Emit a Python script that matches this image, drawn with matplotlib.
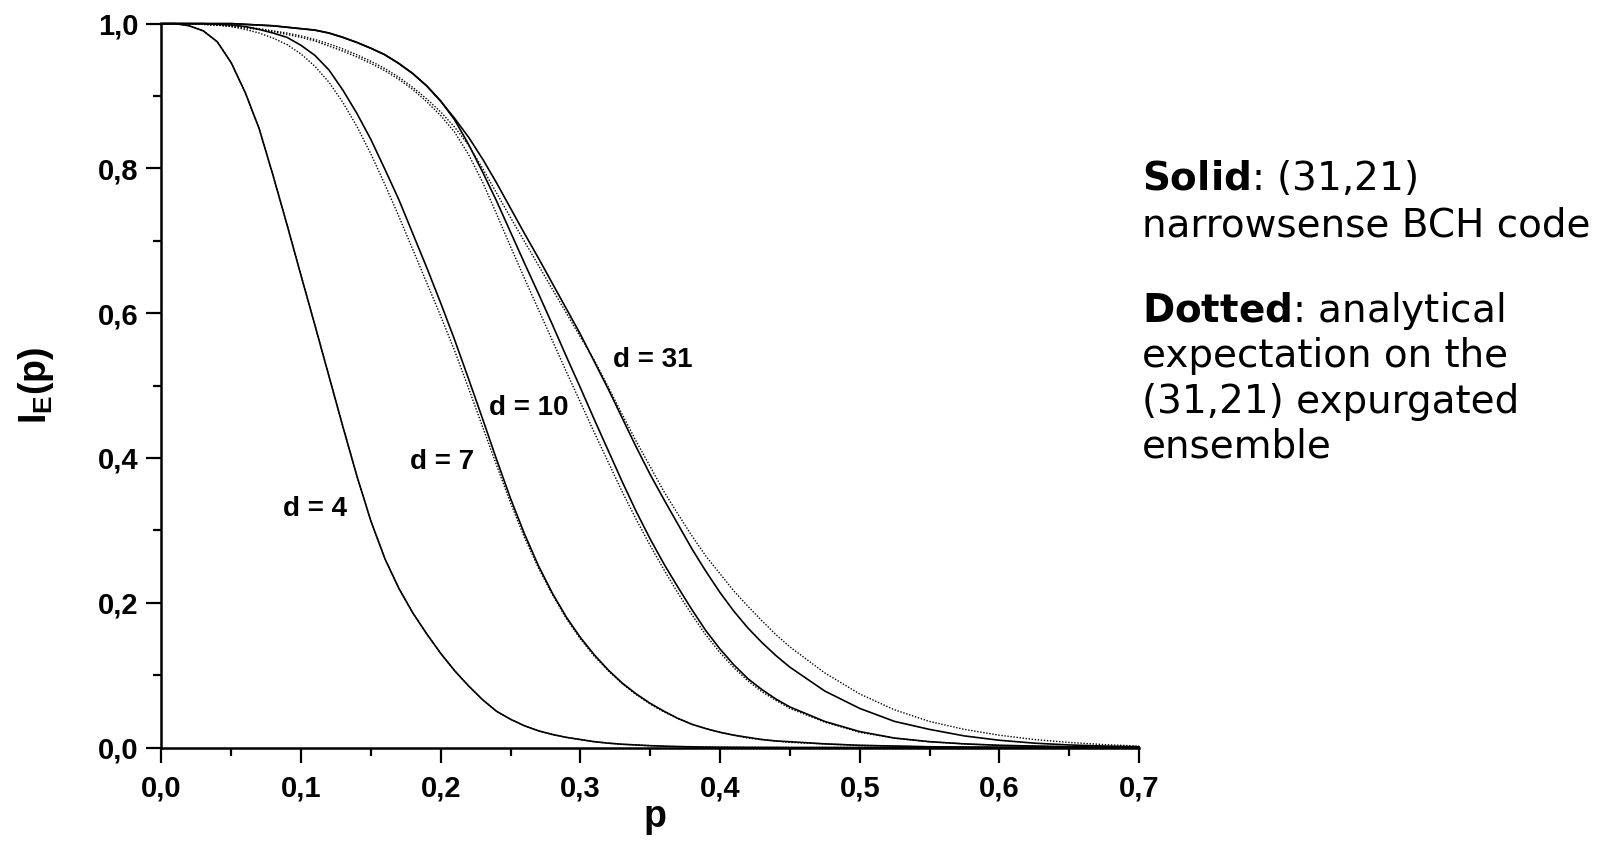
import matplotlib
matplotlib.use("Agg")
import matplotlib.pyplot as plt
from matplotlib.ticker import MultipleLocator, FuncFormatter

plt.rcParams['mathtext.fontset'] = 'custom'
plt.rcParams['mathtext.rm'] = 'Liberation Sans:bold'
plt.rcParams['mathtext.it'] = 'Liberation Sans:bold'
plt.rcParams['mathtext.bf'] = 'DejaVu Sans:bold'

# error probability grid
p = [0.00, 0.01, 0.02, 0.03, 0.04, 0.05, 0.06, 0.07, 0.08, 0.09,
     0.10, 0.11, 0.12, 0.13, 0.14, 0.15, 0.16, 0.17, 0.18, 0.19,
     0.20, 0.21, 0.22, 0.23, 0.24, 0.25, 0.26, 0.27, 0.28, 0.29,
     0.30, 0.31, 0.32, 0.33, 0.34, 0.35, 0.36, 0.37, 0.38, 0.39,
     0.40, 0.41, 0.42, 0.43, 0.44, 0.45,
     0.475, 0.50, 0.525, 0.55, 0.575, 0.60, 0.625, 0.65, 0.675, 0.70]

# solid: (31,21) narrowsense BCH code
bch_d4 = [1.000, 1.000, 0.997, 0.990, 0.975, 0.946, 0.905, 0.855, 0.790, 0.722,
          0.652, 0.583, 0.513, 0.443, 0.375, 0.313, 0.261, 0.220, 0.186, 0.157,
          0.130, 0.106, 0.085, 0.066, 0.050, 0.039, 0.030, 0.023, 0.018, 0.014,
          0.011, 0.008, 0.006, 0.0045, 0.0035, 0.0025, 0.0018, 0.0013, 0.0009, 0.0006,
          0.0004, 0.0003, 0.0002, 0.0001, 0.0001, 0.0,
          0.0, 0.0, 0.0, 0.0, 0.0, 0.0, 0.0, 0.0, 0.0, 0.0]
bch_d7 = [1.000, 1.000, 1.000, 1.000, 0.999, 0.998, 0.996, 0.992, 0.987, 0.981,
          0.970, 0.956, 0.936, 0.908, 0.876, 0.840, 0.799, 0.757, 0.710, 0.663,
          0.614, 0.563, 0.509, 0.454, 0.398, 0.344, 0.295, 0.251, 0.213, 0.180,
          0.152, 0.128, 0.107, 0.089, 0.074, 0.061, 0.050, 0.040, 0.032, 0.026,
          0.021, 0.017, 0.014, 0.011, 0.009, 0.008,
          0.005, 0.003, 0.002, 0.001, 0.0006, 0.0003, 0.0002, 0.0001, 0.0, 0.0]
bch_d10 = [1.000, 1.000, 1.000, 1.000, 1.000, 1.000, 0.999, 0.998, 0.997, 0.995,
           0.993, 0.991, 0.987, 0.981, 0.974, 0.966, 0.957, 0.945, 0.931, 0.914,
           0.893, 0.867, 0.833, 0.795, 0.755, 0.712, 0.669, 0.627, 0.584, 0.540,
           0.497, 0.453, 0.410, 0.367, 0.326, 0.288, 0.253, 0.221, 0.190, 0.161,
           0.136, 0.114, 0.095, 0.080, 0.067, 0.056,
           0.036, 0.022, 0.013, 0.008, 0.005, 0.003, 0.002, 0.001, 0.0005, 0.0]
bch_d31 = [1.000, 1.000, 1.000, 1.000, 1.000, 1.000, 0.999, 0.998, 0.997, 0.995,
           0.993, 0.991, 0.987, 0.981, 0.974, 0.966, 0.957, 0.945, 0.931, 0.914,
           0.893, 0.869, 0.843, 0.813, 0.780, 0.745, 0.710, 0.676, 0.641, 0.606,
           0.571, 0.533, 0.495, 0.455, 0.415, 0.377, 0.342, 0.308, 0.274, 0.243,
           0.214, 0.188, 0.165, 0.145, 0.127, 0.111,
           0.078, 0.054, 0.036, 0.025, 0.016, 0.010, 0.006, 0.0035, 0.002, 0.001]

# dotted: analytical expectation on the (31,21) expurgated ensemble
ens_d4 = [1.000, 1.000, 0.997, 0.990, 0.975, 0.946, 0.905, 0.855, 0.790, 0.722,
          0.652, 0.583, 0.513, 0.443, 0.375, 0.313, 0.261, 0.220, 0.186, 0.157,
          0.130, 0.106, 0.085, 0.066, 0.050, 0.039, 0.030, 0.023, 0.018, 0.014,
          0.011, 0.008, 0.006, 0.0045, 0.0035, 0.0025, 0.0018, 0.0013, 0.0009, 0.0006,
          0.0004, 0.0003, 0.0002, 0.0001, 0.0001, 0.0,
          0.0, 0.0, 0.0, 0.0, 0.0, 0.0, 0.0, 0.0, 0.0, 0.0]
ens_d7 = [1.000, 1.000, 1.000, 0.999, 0.998, 0.996, 0.992, 0.987, 0.980, 0.971,
          0.958, 0.941, 0.919, 0.891, 0.858, 0.820, 0.778, 0.734, 0.688, 0.642,
          0.596, 0.548, 0.496, 0.443, 0.390, 0.338, 0.290, 0.248, 0.211, 0.178,
          0.150, 0.126, 0.106, 0.088, 0.073, 0.060, 0.049, 0.040, 0.032, 0.026,
          0.021, 0.017, 0.013, 0.011, 0.009, 0.007,
          0.005, 0.003, 0.002, 0.001, 0.0006, 0.0003, 0.0002, 0.0001, 0.0, 0.0]
ens_d10 = [1.000, 1.000, 1.000, 0.999, 0.998, 0.996, 0.994, 0.992, 0.989, 0.985,
           0.981, 0.976, 0.969, 0.962, 0.954, 0.945, 0.935, 0.923, 0.909, 0.892,
           0.873, 0.850, 0.819, 0.781, 0.737, 0.692, 0.648, 0.605, 0.562, 0.519,
           0.477, 0.435, 0.394, 0.353, 0.315, 0.279, 0.245, 0.213, 0.183, 0.155,
           0.131, 0.110, 0.092, 0.077, 0.065, 0.054,
           0.035, 0.021, 0.013, 0.008, 0.005, 0.003, 0.002, 0.001, 0.0005, 0.0]
ens_d31 = [1.000, 1.000, 1.000, 0.999, 0.998, 0.997, 0.995, 0.993, 0.990, 0.987,
           0.983, 0.978, 0.972, 0.965, 0.957, 0.948, 0.938, 0.926, 0.912, 0.896,
           0.878, 0.857, 0.832, 0.800, 0.766, 0.732, 0.699, 0.666, 0.633, 0.600,
           0.567, 0.535, 0.498, 0.460, 0.423, 0.388, 0.353, 0.322, 0.292, 0.264,
           0.240, 0.216, 0.195, 0.175, 0.156, 0.139,
           0.103, 0.074, 0.052, 0.036, 0.025, 0.017, 0.011, 0.007, 0.004, 0.002]

curve_labels = ["d = 4", "d = 7", "d = 10", "d = 31"]
label_p = [0.110, 0.201, 0.263, 0.352]
label_y = [0.329, 0.395, 0.469, 0.535]

fig = plt.figure(figsize=(16.12, 8.59), dpi=100)
ax = fig.add_axes([0.1001, 0.1298, 0.6065, 0.8427])

for ys in [bch_d4, bch_d7, bch_d10, bch_d31]:
    ax.plot(p, ys, color='black', lw=1.2, clip_on=False)
for ys in [ens_d4, ens_d7, ens_d10, ens_d31]:
    ax.plot(p, ys, color='black', lw=1.0, linestyle=(0, (1, 1.2)), clip_on=False)

for txt, xx, yy in zip(curve_labels, label_p, label_y):
    ax.text(xx, yy, txt, ha='center', va='center', fontsize=20,
            fontweight='bold', family='Liberation Sans')

ax.set_xlim(0, 0.7)
ax.set_ylim(0, 1.0)
ax.spines['top'].set_visible(False)
ax.spines['right'].set_visible(False)
for s in ['left', 'bottom']:
    ax.spines[s].set_linewidth(1.8)

ax.xaxis.set_major_locator(MultipleLocator(0.1))
ax.xaxis.set_minor_locator(MultipleLocator(0.05))
ax.yaxis.set_major_locator(MultipleLocator(0.2))
ax.yaxis.set_minor_locator(MultipleLocator(0.1))
comma = FuncFormatter(lambda v, pos: f"{v:.1f}".replace(".", ","))
ax.xaxis.set_major_formatter(comma)
ax.yaxis.set_major_formatter(comma)
ax.tick_params(which='major', length=10.5, width=1.6, direction='out')
ax.tick_params(which='minor', length=6, width=1.6, direction='out')
ax.tick_params(axis='x', which='major', pad=9)
ax.tick_params(axis='y', which='major', pad=6)
for lab in ax.get_xticklabels() + ax.get_yticklabels():
    lab.set_fontfamily('Liberation Sans')
    lab.set_fontweight('bold')
    lab.set_fontsize(21)

ax.set_xlabel("p", fontsize=27, fontweight='bold', family='Liberation Sans')
ax.xaxis.set_label_coords(0.505, -0.096)
ax.xaxis.label.set_va('center')
ax.set_ylabel(r"$\mathrm{I_E(p)}$", fontsize=27)
ax.yaxis.set_label_coords(-0.128, 0.5)
ax.yaxis.label.set_va('center')

# annotation block on the right
note_x = 0.7084
note_lines = [(r"$\mathbf{Solid}$: (31,21)", 0.792),
              ("narrowsense BCH code", 0.738),
              (r"$\mathbf{Dotted}$: analytical", 0.638),
              ("expectation on the", 0.585),
              ("(31,21) expurgated", 0.532),
              ("ensemble", 0.480)]
for txt, yy in note_lines:
    fig.text(note_x, yy, txt, fontsize=28, family='DejaVu Sans', va='center')

fig.savefig("out.png", dpi=100)
